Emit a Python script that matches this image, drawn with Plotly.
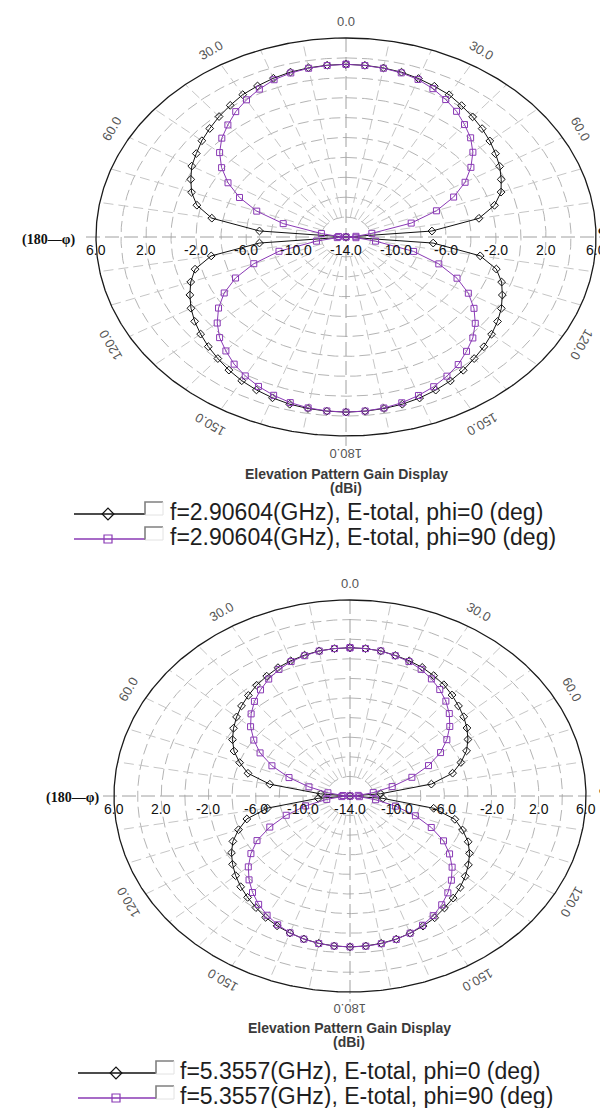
import numpy as np
import plotly.graph_objects as go

W, H = 608, 1108
R_MIN, R_MAX = -14.0, 6.0

# ---------------- data ----------------
theta = list(range(0, 360, 5))  # elevation angle (deg), 0 = top, clockwise

gain_2906_phi0 = [
    3.36, 3.32, 3.25, 3.15, 2.95, 2.72, 2.50, 2.12, 1.76, 1.40, 1.02, 0.60, 0.20, -0.30, -0.80, -1.70, -3.20, -7.10, -15.0,
    -7.00, -3.10, -1.55, -0.75, -0.20, 0.35, 0.80, 1.20, 1.60, 1.95, 2.35, 2.70, 2.98, 3.22, 3.40, 3.50, 3.57, 3.60,
    3.57, 3.50, 3.40, 3.20, 2.96, 2.68, 2.33, 1.95, 1.58, 1.18, 0.78, 0.32, -0.22, -0.78, -1.50, -3.05, -7.05, -15.0,
    -7.05, -3.10, -1.65, -0.85, -0.30, 0.25, 0.62, 1.05, 1.42, 1.80, 2.15, 2.52, 2.75, 2.98, 3.16, 3.26, 3.33,
]
gain_2906_phi90 = [
    3.36, 3.30, 3.22, 3.08, 2.85, 2.45, 1.95, 1.42, 0.75, 0.10, -0.75, -1.80, -3.00, -4.50, -6.30, -8.60, -11.9, -13.2, -15.0,
    -13.2, -11.6, -8.40, -6.10, -4.20, -2.70, -1.50, -0.50, 0.35, 1.00, 1.65, 2.15, 2.60, 2.95, 3.25, 3.45, 3.56, 3.60,
    3.55, 3.44, 3.23, 2.93, 2.57, 2.12, 1.60, 0.95, 0.30, -0.55, -1.55, -2.75, -4.25, -6.15, -8.45, -11.6, -13.3, -15.0,
    -13.4, -12.0, -8.80, -6.40, -4.60, -3.10, -1.85, -0.80, 0.05, 0.70, 1.38, 1.92, 2.40, 2.82, 3.07, 3.22, 3.30,
]
gain_5356_phi0 = [
    1.13, 1.10, 1.03, 0.85, 0.68, 0.48, 0.18, -0.14, -0.55, -1.00, -1.42, -1.90, -2.46, -3.10, -4.00, -5.00, -7.00, -11.4, -15.0,
    -11.2, -6.80, -4.80, -3.85, -2.95, -2.30, -1.75, -1.25, -0.80, -0.40, -0.05, 0.35, 0.65, 0.90, 1.12, 1.27, 1.36, 1.40,
    1.36, 1.27, 1.10, 0.88, 0.62, 0.30, -0.10, -0.50, -0.90, -1.35, -1.85, -2.40, -3.05, -3.95, -4.95, -6.90, -11.3, -15.0,
    -11.5, -7.10, -5.05, -4.05, -3.15, -2.50, -1.95, -1.45, -1.00, -0.60, -0.20, 0.12, 0.45, 0.68, 0.88, 1.04, 1.10,
]
gain_5356_phi90 = [
    1.13, 1.10, 1.03, 0.82, 0.60, 0.26, -0.20, -0.74, -1.36, -2.10, -2.96, -3.98, -5.14, -6.66, -8.42, -10.3, -12.0, -13.3, -15.0,
    -13.2, -11.8, -10.0, -8.10, -6.40, -4.85, -3.70, -2.70, -1.85, -1.10, -0.45, 0.10, 0.55, 0.90, 1.15, 1.30, 1.38, 1.40,
    1.37, 1.28, 1.12, 0.86, 0.50, 0.05, -0.50, -1.15, -1.90, -2.75, -3.75, -4.90, -6.50, -8.25, -10.1, -12.0, -13.3, -15.0,
    -13.4, -12.1, -10.4, -8.50, -6.70, -5.20, -4.05, -3.00, -2.15, -1.40, -0.78, -0.22, 0.25, 0.60, 0.82, 1.02, 1.10,
]

legend_1 = ["f=2.90604(GHz), E-total, phi=0 (deg)", "f=2.90604(GHz), E-total, phi=90 (deg)"]
legend_2 = ["f=5.3557(GHz), E-total, phi=0 (deg)", "f=5.3557(GHz), E-total, phi=90 (deg)"]

ring_levels = [-12, -10, -8, -6, -4, -2, 0, 2, 4]
radial_ticks = [6.0, 2.0, -2.0, -6.0, -10.0]
spoke_angles = list(range(0, 360, 10))
angle_labels = [(0, "0.0"), (30, "30.0"), (60, "60.0"), (120, "120.0"), (150, "150.0"), (180, "180.0"),
                (-30, "30.0"), (-60, "60.0"), (-120, "120.0"), (-150, "150.0")]

BLACK = "#111111"
PURPLE = "#8a3ab5"

# ---------------- layout geometry ----------------
charts = [
    dict(xa="x", ya="y", cx=338, cy=229, rx=250, ry=199, ypix=(0, 480), axis_left=78,
         title_y=466, dbi_y=480, rows=(504, 529), left_lbl=(40, 232), phi_lbl=(594, 221),
         leg_line=(66, 137), leg_mark=100, box=(137, 155), text_x=160,
         data=(gain_2906_phi0, gain_2906_phi90), legend=legend_1, tcx=338),
    dict(xa="x2", ya="y2", cx=342, cy=788, rx=236, ry=196, ypix=(540, 1050), axis_left=95,
         title_y=1020, dbi_y=1034, rows=(1063, 1088), left_lbl=(64, 790), phi_lbl=(595, 781),
         leg_line=(70, 148), leg_mark=108, box=(148, 166), text_x=170,
         data=(gain_5356_phi0, gain_5356_phi90), legend=legend_2, tcx=341),
]


def to_norm(g):
    return (np.clip(np.asarray(g, dtype=float), R_MIN, R_MAX) - R_MIN) / (R_MAX - R_MIN)


fig = go.Figure()
annotations = []
t = np.linspace(0, 2 * np.pi, 721)

for c in charts:
    xa, ya = c["xa"], c["ya"]
    common = dict(xaxis=xa, yaxis=ya, hoverinfo="skip", showlegend=False)

    # dashed rings
    xs, ys = [], []
    for lv in ring_levels:
        r = to_norm(lv)
        xs += list(r * np.sin(t)) + [None]
        ys += list(r * np.cos(t)) + [None]
    fig.add_trace(go.Scatter(x=xs, y=ys, mode="lines",
                             line=dict(color="#b4b4b4", width=1, dash="11px,5px"), **common))
    # spokes
    xs, ys = [], []
    for a in spoke_angles:
        if a % 90 == 0:
            continue
        ar = np.radians(a)
        xs += [0.1 * np.sin(ar), np.sin(ar), None]
        ys += [0.1 * np.cos(ar), np.cos(ar), None]
    fig.add_trace(go.Scatter(x=xs, y=ys, mode="lines",
                             line=dict(color="#c6c6c6", width=1, dash="10px,5px"), **common))
    # main axes
    ext_l = (c["cx"] - c["axis_left"]) / c["rx"]
    fig.add_trace(go.Scatter(x=[-ext_l, 1.02, None, 0, 0], y=[0, 0, None, 1, -1.05], mode="lines",
                             line=dict(color="#a0a0a0", width=1, dash="14px,5px"), **common))
    # outer boundary
    fig.add_trace(go.Scatter(x=np.sin(t), y=np.cos(t), mode="lines",
                             line=dict(color="#1a1a1a", width=1.3), **common))

    # data curves
    th = np.radians(np.array(theta + [theta[0]]))
    for gains, col, sym, sz in zip(c["data"], (BLACK, PURPLE), ("diamond-open", "square-open"), (6, 6)):
        r = to_norm(list(gains) + [gains[0]])
        fig.add_trace(go.Scatter(x=r * np.sin(th), y=r * np.cos(th), mode="lines+markers",
                                 line=dict(color=col, width=1),
                                 marker=dict(symbol=sym, size=sz, color=col, line=dict(width=1, color=col)),
                                 **common))

    # angular labels
    for a, txt in angle_labels:
        ar = np.radians(a)
        rl = 1.085
        annotations.append(dict(x=rl * np.sin(ar), y=rl * np.cos(ar), xref=xa, yref=ya, text=txt,
                                showarrow=False, textangle=a,
                                font=dict(family="Liberation Sans", size=13, color="#555555")))
    # radial tick labels
    for v in radial_ticks:
        r = to_norm(v)
        for s in (-1, 1):
            annotations.append(dict(x=s * r, y=0, xref=xa, yref=ya, text=f"{v:.1f}", showarrow=False,
                                    yshift=-13, font=dict(family="Liberation Sans", size=14, color="#111111")))
    annotations.append(dict(x=0, y=0, xref=xa, yref=ya, text=f"{R_MIN:.1f}", showarrow=False,
                            yshift=-13, font=dict(family="Liberation Sans", size=14, color="#111111")))

    # side labels, title (pixel coordinates on overlay axis)
    annotations.append(dict(x=c["left_lbl"][0], y=c["left_lbl"][1], xref="x3", yref="y3", text="<b>(180—φ)</b>",
                            showarrow=False, font=dict(family="Liberation Serif", size=14, color="#111111")))
    annotations.append(dict(x=c["phi_lbl"][0], y=c["phi_lbl"][1], xref="x3", yref="y3", text="<b>φ</b>",
                            showarrow=False, font=dict(family="Liberation Serif", size=13, color="#111111")))
    annotations.append(dict(x=c["tcx"], y=c["title_y"], xref="x3", yref="y3",
                            text="<b>Elevation Pattern Gain Display</b>",
                            showarrow=False, font=dict(family="Liberation Sans", size=14, color="#3a3a3a")))
    annotations.append(dict(x=c["tcx"], y=c["dbi_y"], xref="x3", yref="y3", text="<b>(dBi)</b>",
                            showarrow=False, font=dict(family="Liberation Sans", size=14, color="#3a3a3a")))

    # custom legend
    for row_y, label, col, sym, sz in zip(c["rows"], c["legend"], (BLACK, PURPLE),
                                          ("diamond-open", "square-open"), (9, 8)):
        ly = row_y + 2
        fig.add_trace(go.Scatter(x=list(c["leg_line"]), y=[ly, ly], mode="lines",
                                 line=dict(color=col, width=1.3), xaxis="x3", yaxis="y3",
                                 hoverinfo="skip", showlegend=False))
        fig.add_trace(go.Scatter(x=[c["leg_mark"]], y=[ly], mode="markers",
                                 marker=dict(symbol=sym, size=sz, color=col, line=dict(width=1.2, color=col)),
                                 xaxis="x3", yaxis="y3", hoverinfo="skip", showlegend=False))
        bx0, bx1 = c["box"]
        fig.add_trace(go.Scatter(x=[bx0, bx0, bx1], y=[ly + 1, row_y - 10, row_y - 10], mode="lines",
                                 line=dict(color="#808080", width=1.6), xaxis="x3", yaxis="y3",
                                 hoverinfo="skip", showlegend=False))
        fig.add_trace(go.Scatter(x=[bx1, bx1, bx0], y=[row_y - 10, ly + 1, ly + 1], mode="lines",
                                 line=dict(color="#e2e2e2", width=1), xaxis="x3", yaxis="y3",
                                 hoverinfo="skip", showlegend=False))
        annotations.append(dict(x=c["text_x"], y=row_y, xref="x3", yref="y3", text=label, xanchor="left",
                                showarrow=False, font=dict(family="Liberation Sans", size=23, color="#1e1e1e")))

layout_axes = {}
for i, c in enumerate(charts):
    sfx = "" if i == 0 else "2"
    y0, y1 = c["ypix"]
    layout_axes["xaxis" + sfx] = dict(domain=[0, 1], range=[(0 - c["cx"]) / c["rx"], (W - c["cx"]) / c["rx"]],
                                      visible=False, fixedrange=True, anchor="y" + sfx)
    layout_axes["yaxis" + sfx] = dict(domain=[1 - y1 / H, 1 - y0 / H],
                                      range=[(c["cy"] - y1) / c["ry"], (c["cy"] - y0) / c["ry"]],
                                      visible=False, fixedrange=True, anchor="x" + sfx)
layout_axes["xaxis3"] = dict(domain=[0, 1], range=[0, W], visible=False, fixedrange=True, anchor="y3")
layout_axes["yaxis3"] = dict(domain=[0, 1], range=[H, 0], visible=False, fixedrange=True, anchor="x3")

fig.update_layout(width=W, height=H, autosize=False, margin=dict(l=0, r=0, t=0, b=0),
                  paper_bgcolor="white", plot_bgcolor="rgba(0,0,0,0)",
                  annotations=annotations, **layout_axes)

fig.write_html("out.html")
